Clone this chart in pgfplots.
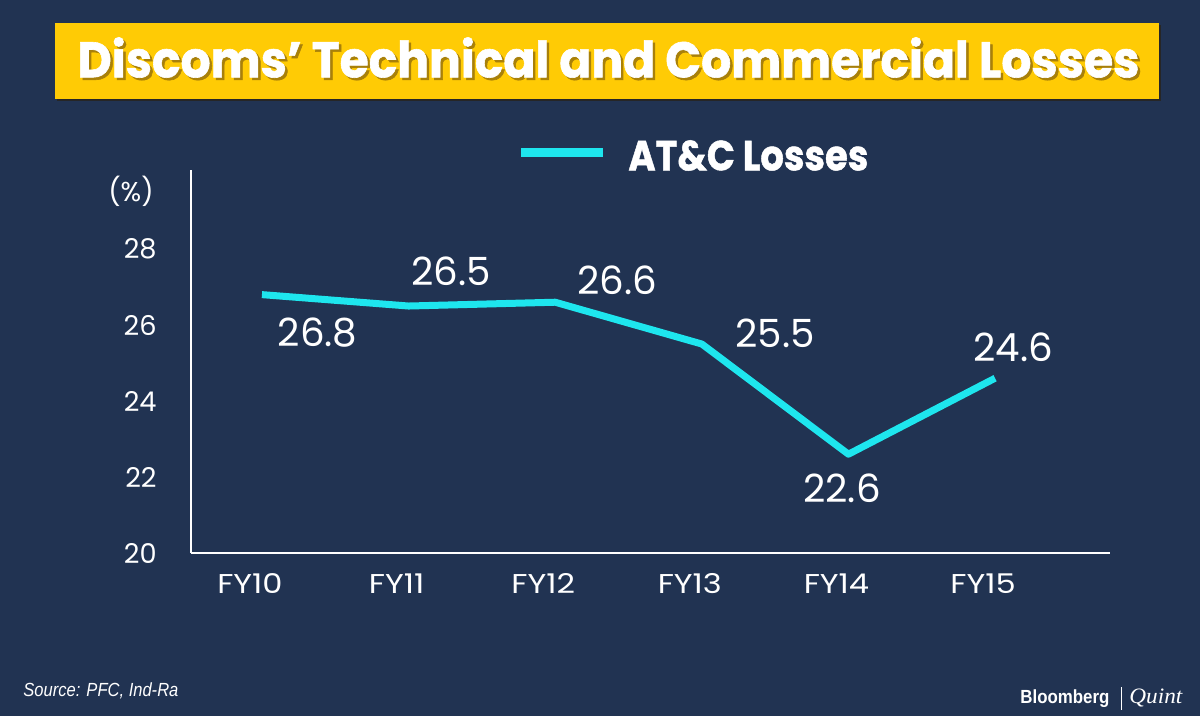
\documentclass[border=0pt]{standalone}
\usepackage{fontspec}
\setmainfont{Poppins}
\newfontfamily\titlefont[BoldFeatures={FakeBold=1.2}]{Poppins}
\newfontfamily\arialfont{Liberation Sans}
\newfontfamily\timesfont{Liberation Serif}
\usepackage{pgfplots}
\usepackage{pgfplotstable}
\pgfplotsset{compat=1.18}

\definecolor{bg}{HTML}{213352}
\definecolor{cyanline}{HTML}{1EE6EE}
\definecolor{titleyellow}{HTML}{FFCB05}
\definecolor{titleshadow}{HTML}{A8800A}

% x = category index (FY10 ... FY15), y = AT&C losses in %, dx/dy = label offset in bp
\pgfplotstableread{
x y dx dy
0 26.8 27.8 -19.2
1 26.5 21.2 17.5
2 26.6 30.9 11.1
3 25.5 36.6 5.5
4 22.6 -3.2 -16.9
5 24.6 9.0 15.6
}\atcdata

\newcommand{\fy}[1]{\scalebox{1.18}[1]{#1}}

\begin{document}
\begin{tikzpicture}
\fill[bg] (0,0) rectangle (600bp,358bp);
\useasboundingbox (0,0) rectangle (600bp,358bp);

% title banner
\fill[black!85] (28.5bp,307.5bp) rectangle (580.5bp,345.5bp);
\fill[titleyellow] (27.5bp,308.5bp) rectangle (579.5bp,346.5bp);
\node[text=titleshadow, inner sep=0] at (305.5bp,328bp)
  {\resizebox{531bp}{\height}{\titlefont\fontsize{25bp}{30bp}\selectfont\bfseries Discoms’ Technical and Commercial Losses}};
\node[text=white, inner sep=0] at (304.25bp,329.25bp)
  {\resizebox{531bp}{\height}{\titlefont\fontsize{25bp}{30bp}\selectfont\bfseries Discoms’ Technical and Commercial Losses}};

% legend
\draw[cyanline, line width=4.5bp] (260.5bp,281.5bp) -- (301.5bp,281.5bp);
\node[anchor=west, text=white, inner sep=0] at (314bp,280.25bp)
  {\resizebox{120bp}{\height}{\titlefont\fontsize{21bp}{25bp}\selectfont\bfseries AT\&C Losses}};

% unit
\node[text=white, inner sep=0, font=\fontsize{13.6bp}{16bp}\selectfont] at (65.5bp,262.5bp) {(\%)};

\begin{axis}[
  at={(95.5bp,81.5bp)}, anchor=south west,
  scale only axis, width=459.5bp, height=191.5bp,
  xmin=-0.484, xmax=5.784, ymin=20, ymax=30.08,
  axis x line*=bottom, axis y line*=left,
  axis line style={-, white, line width=0.75bp},
  xtick={0,1,2,3,4,5},
  xticklabels={\fy{FY10},\fy{FY11},\fy{FY12},\fy{FY13},\fy{FY14},\fy{FY15}},
  ytick={20,22,24,26,28},
  major tick length=0pt,
  tick style={draw=none},
  /pgf/number format/assume math mode=true,
  xticklabel style={font=\fontsize{13.6bp}{16bp}\selectfont, text=white,
    anchor=north, inner sep=0pt, yshift=-10.25bp, xshift=-6bp},
  yticklabel style={font=\fontsize{13.6bp}{16bp}\selectfont, text=white,
    anchor=east, inner sep=0pt, xshift=-17bp},
  clip=false,
]
\addplot[cyanline, line width=3.5bp, line join=round,
  nodes near coords={\pgfmathprintnumber[fixed,fixed zerofill,precision=1]{\pgfplotspointmeta}},
  point meta=explicit,
  visualization depends on={\thisrow{dx} \as \dx},
  visualization depends on={\thisrow{dy} \as \dy},
  nodes near coords style={anchor=center, inner sep=0pt, text=white,
    font=\fontsize{19.4bp}{23bp}\selectfont, xshift=\dx bp, yshift=\dy bp}]
  table[x=x, y=y, meta=y] {\atcdata};
\end{axis}

% footer
\node[anchor=west, text=white, inner sep=0] at (11.5bp,12.5bp)
  {\resizebox{77.5bp}{\height}{\arialfont\itshape\fontsize{9.5bp}{11bp}\selectfont Source: PFC, Ind-Ra}};
\node[anchor=base west, text=white, inner sep=0] at (510bp,6.5bp)
  {\resizebox{44.5bp}{\height}{\arialfont\bfseries\fontsize{9.5bp}{11bp}\selectfont Bloomberg}};
\draw[white, line width=0.5bp] (560.5bp,3bp) -- (560.5bp,14.5bp);
\node[anchor=base west, text=white, inner sep=0] at (564.5bp,6.5bp)
  {\resizebox{26.5bp}{\height}{\timesfont\itshape\fontsize{11bp}{13bp}\selectfont Quint}};
\end{tikzpicture}
\end{document}
